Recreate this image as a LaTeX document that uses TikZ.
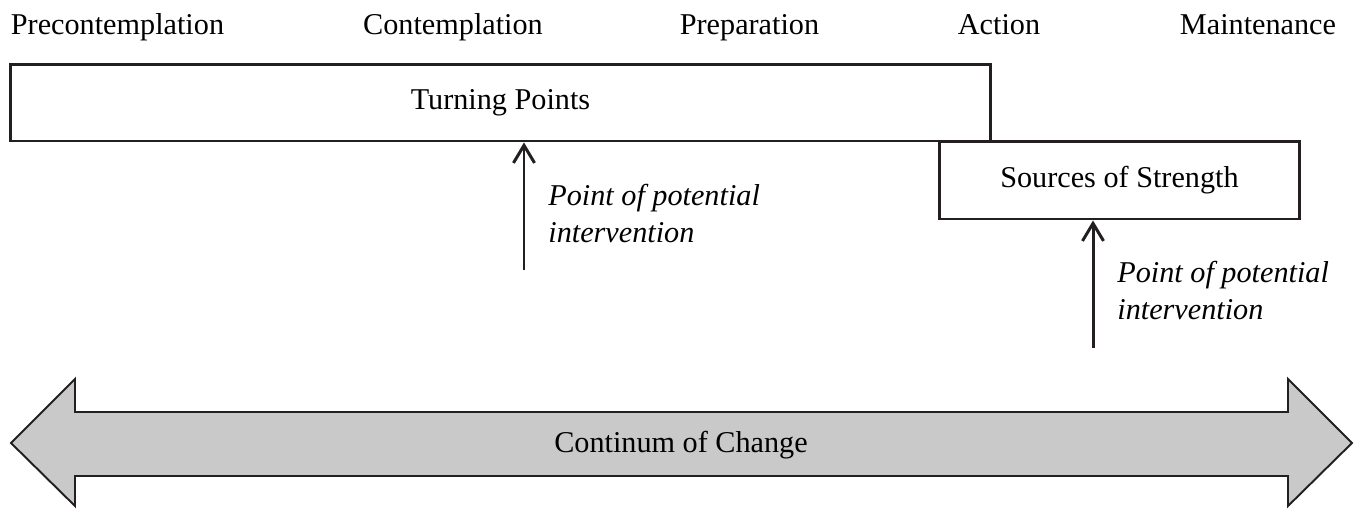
\documentclass[tikz,border=0pt]{standalone}
\usepackage{fontspec}
\setmainfont{Liberation Serif}
\usepackage{tikz}
\usetikzlibrary{arrows.meta, positioning, calc}
\definecolor{inkline}{RGB}{35,31,32}
\definecolor{bandgray}{RGB}{201,201,201}

\begin{document}
\begin{tikzpicture}[
    x=0.02cm, y=-0.02cm,
    stagelbl/.style={font=\fontsize{17.2}{21}\selectfont,anchor=base,inner sep=0pt},
    box/.style={draw=inkline,line width=1.7pt,fill=white,
      font=\fontsize{17.2}{21}\selectfont,align=center},
    note/.style={font=\fontsize{17.2}{21}\selectfont\itshape,align=left,
      anchor=north west,inner sep=0pt},
    arrow/.style={-{Straight Barb[length=10pt,width=12pt]},line width=1.7pt,inkline},
    band/.style={draw=inkline,line width=1.1pt,fill=bandgray,line join=miter}
  ]
  \useasboundingbox (0,0) rectangle (1360,508);

  % Stage names (top row)
  \node[stagelbl] (precon) at (117.5,34) {Precontemplation};
  \node[stagelbl] (contem) at (453,34) {Contemplation};
  \node[stagelbl] (prepar) at (749.5,34) {Preparation};
  \node[stagelbl] (action) at (999,34) {Action};
  \node[stagelbl] (mainte) at (1258,34) {Maintenance};

  % Boxes
  \node[box,minimum width=19.62cm,minimum height=1.54cm] (turning) at (500.5,102.5)
    {Turning Points};
  \node[box,minimum width=7.22cm,minimum height=1.56cm] (sources) at (1119.5,180)
    {Sources of Strength};

  % Points of potential intervention
  \coordinate (tailA) at (524,270);
  \coordinate (tailB) at (1093,348);
  \draw[arrow] (tailA) -- (turning.south -| tailA);
  \draw[arrow] (tailB) -- (sources.south -| tailB);
  \node[note] (noteA) at (548,184) {Point of potential\\intervention};
  \node[note] (noteB) at (1117,261) {Point of potential\\intervention};

  % Continuum band
  \draw[band] (11,443) -- (75,379) -- (75,412) -- (1288,412) -- (1288,379)
    -- (1352,443) -- (1288,506) -- (1288,476) -- (75,476) -- (75,506) -- cycle;
  \node[font=\fontsize{17.2}{21}\selectfont,inner sep=0pt] (continuum) at (681,445)
    {Continum of Change};
\end{tikzpicture}
\end{document}
